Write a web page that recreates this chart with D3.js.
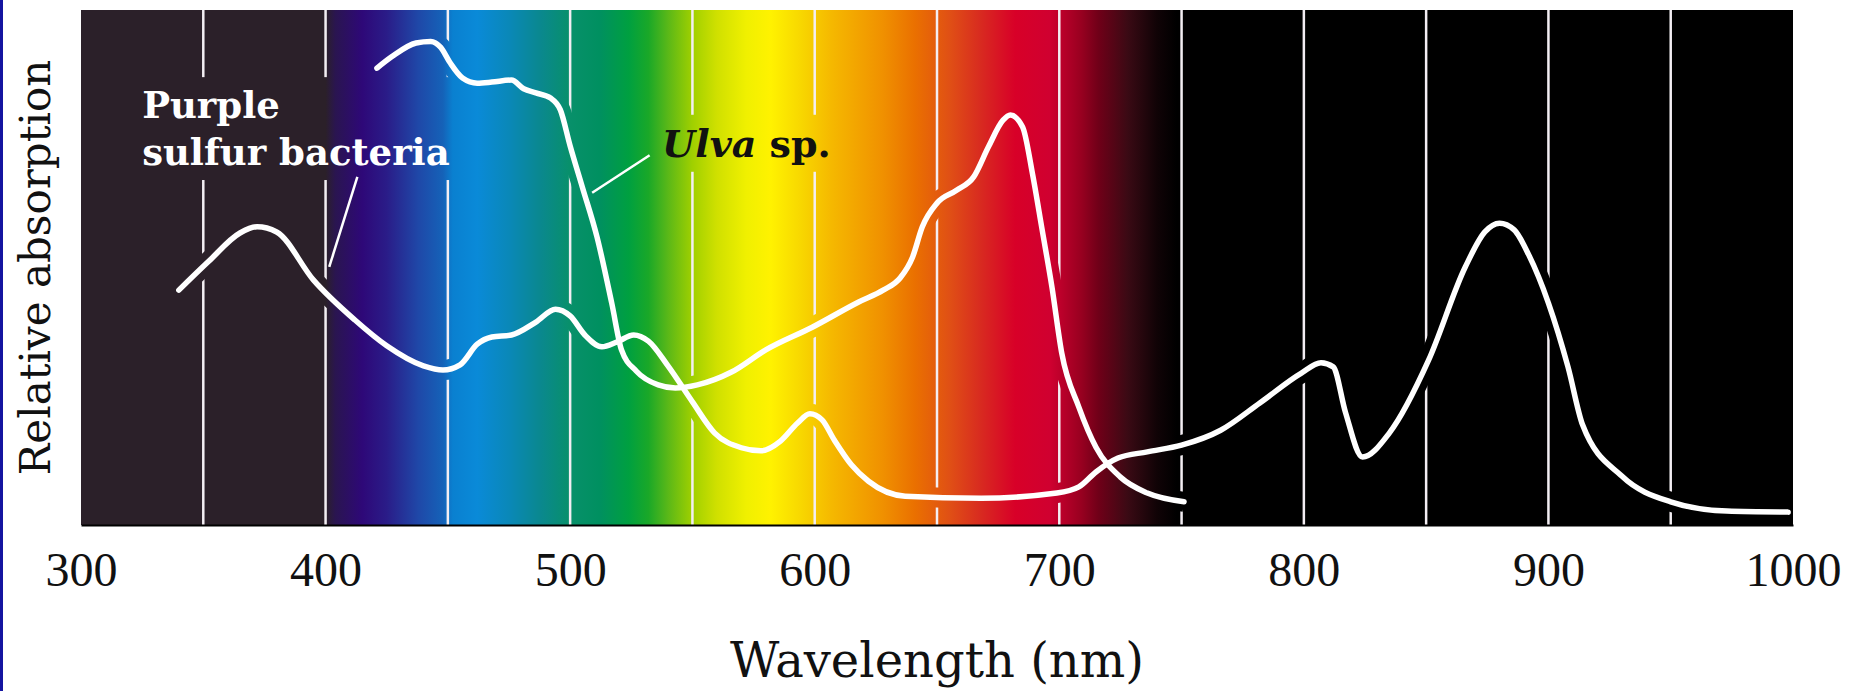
<!DOCTYPE html>
<html>
<head>
<meta charset="utf-8">
<script src="https://d3js.org/d3.v7.min.js"></script>
<style>
  body { margin: 0; background: #fff; }
  svg { display: block; }
</style>
</head>
<body>
<div id="chart"></div>
<script>
// wavelength (nm) / relative absorption (0-100)
var purpleWl = [340, 352, 365, 372, 380, 395, 412, 425, 440, 448, 455, 462, 468, 476, 486, 494, 500, 506, 513, 519,
  526, 532, 540, 550, 559, 570, 578, 586, 593, 598, 603, 608, 615, 622, 637, 668, 699, 708, 715, 724,
  736, 750, 766, 782, 799, 807, 812, 817, 824, 835, 851, 866, 874, 880, 886, 892, 900, 908, 914, 930,
  950, 973, 998];
var purpleAbs = [45.6, 51.1, 56.7, 57.9, 56.9, 47.6, 39.8, 34.8, 30.9, 30.1, 31.1, 35.1, 36.5, 36.9, 39.4, 41.9, 40.6, 36.9, 34.6, 35.5,
  36.9, 35.7, 30.9, 23.9, 17.9, 15.0, 14.4, 16.3, 19.8, 21.6, 20.4, 16.5, 11.7, 8.5, 5.6, 5.2, 6.2, 7.4, 10.3, 13.0,
  14.2, 15.5, 18.4, 23.7, 29.5, 31.5, 30.7, 21.9, 13.2, 17.9, 32.0, 50.1, 56.9, 58.6, 57.3, 52.4, 43.1, 30.7, 19.4, 9.5,
  4.5, 2.7, 2.5];

var ulvaWl = [421, 427, 437, 443, 447, 451, 456, 462, 468, 476, 481, 486, 492, 496, 500, 505, 511, 517, 521, 527,
  536, 543, 552, 566, 580, 599, 618, 628, 635, 640, 644, 650, 658, 665, 671, 677, 680, 685, 689, 693,
  697, 701, 708, 715, 725, 736, 751];
var ulvaAbs = [88.7, 90.9, 93.6, 93.9, 92.8, 89.7, 86.8, 85.8, 86.0, 86.4, 84.7, 83.9, 82.9, 80.6, 73.6, 65.6, 55.9, 43.1, 34.0, 29.9,
  27.2, 26.6, 27.2, 29.7, 34.0, 38.4, 43.3, 45.6, 48.0, 52.0, 57.9, 62.5, 65.0, 67.6, 73.4, 78.6, 79.6, 77.3, 68.3, 57.3,
  46.2, 33.4, 22.9, 15.1, 9.3, 6.2, 4.5];

var tickValues = [300, 400, 500, 600, 700, 800, 900, 1000];
var gridValues = [350, 400, 450, 500, 550, 600, 650, 700, 750, 800, 850, 900, 950];

// visible spectrum behind the plot
var spectrumWl = [300, 400, 404, 415, 425, 438, 448, 452, 462, 475, 488, 500, 512, 524, 532, 540, 550, 560, 572, 582,
  594, 607, 628, 641, 655, 668, 682, 696, 709, 716, 728, 740, 748, 1000];
var spectrumColor = ["#2b2029", "#2b2029", "#2a1550", "#2e0878", "#2a1c88", "#1f48a8", "#1562b8", "#0a80d0", "#0a8ad8", "#0a88b8",
  "#0a888e", "#08906a", "#009060", "#00a040", "#1aa828", "#5ab818", "#a0d000", "#d0e000", "#f0f000", "#fff200",
  "#f8d800", "#f5b800", "#f09000", "#ea7000", "#e05015", "#d82a20", "#d80028", "#d00030", "#980020", "#700018",
  "#3a0a14", "#100306", "#000000", "#000000"];

var W = 1858, H = 691;
var margin = { top: 10, right: 65, bottom: 166, left: 81 };
var width = W - margin.left - margin.right,
    height = H - margin.top - margin.bottom;

var x = d3.scaleLinear().domain([300, 1000]).range([0, width]);
var y = d3.scaleLinear().domain([0, 100]).range([height, 0]);

var svg = d3.select("#chart").append("svg")
    .attr("width", W)
    .attr("height", H);

// blue strip on the left edge of the slide
svg.append("rect").attr("x", 0).attr("y", 0).attr("width", 3).attr("height", H).attr("fill", "#1414a0");

var defs = svg.append("defs");
var grad = defs.append("linearGradient")
    .attr("id", "spectrum")
    .attr("gradientUnits", "userSpaceOnUse")
    .attr("x1", x(300)).attr("x2", x(1000))
    .attr("y1", 0).attr("y2", 0);
spectrumWl.forEach(function (w, i) {
    grad.append("stop")
        .attr("offset", (w - 300) / 700)
        .attr("stop-color", spectrumColor[i]);
});

var g = svg.append("g")
    .attr("transform", "translate(" + margin.left + "," + margin.top + ")");

g.append("rect")
    .attr("x", 0).attr("y", 0)
    .attr("width", width).attr("height", height)
    .attr("fill", "url(#spectrum)");

var purple = purpleWl.map(function (w, i) { return [w, purpleAbs[i]]; });
var ulva = ulvaWl.map(function (w, i) { return [w, ulvaAbs[i]]; });

var line = d3.line()
    .x(function (d) { return x(d[0]); })
    .y(function (d) { return y(d[1]); })
    .curve(d3.curveMonotoneX);

// grid lines are knocked out where curves and labels cross them
var mask = defs.append("mask")
    .attr("id", "gridMask")
    .attr("maskUnits", "userSpaceOnUse")
    .attr("x", -margin.left).attr("y", -margin.top)
    .attr("width", W).attr("height", H);
mask.append("rect")
    .attr("x", -margin.left).attr("y", -margin.top)
    .attr("width", W).attr("height", H)
    .attr("fill", "#fff");
[purple, ulva].forEach(function (d) {
    mask.append("path").attr("d", line(d))
        .attr("fill", "none").attr("stroke", "#000").attr("stroke-width", 20);
});

g.append("g")
    .attr("mask", "url(#gridMask)")
    .selectAll("line")
    .data(gridValues)
    .enter().append("line")
    .attr("x1", function (d) { return x(d); })
    .attr("x2", function (d) { return x(d); })
    .attr("y1", 0)
    .attr("y2", height)
    .attr("stroke", "#f3eef3")
    .attr("stroke-width", 2.5);

// leader lines
var leaders = [
    [[413, 67.6], [401.5, 50.1]],
    [[509, 64.5], [532.5, 71.8]]
];
g.selectAll(".leader")
    .data(leaders)
    .enter().append("line")
    .attr("class", "leader")
    .attr("x1", function (d) { return x(d[0][0]); })
    .attr("y1", function (d) { return y(d[0][1]); })
    .attr("x2", function (d) { return x(d[1][0]); })
    .attr("y2", function (d) { return y(d[1][1]); })
    .attr("stroke", "#fff")
    .attr("stroke-width", 2.5);

g.selectAll(".curve")
    .data([purple, ulva])
    .enter().append("path")
    .attr("class", "curve")
    .attr("d", line)
    .attr("fill", "none")
    .attr("stroke", "#fff")
    .attr("stroke-width", 5.5)
    .attr("stroke-linecap", "round")
    .attr("stroke-linejoin", "round");

// labels
var labelFont = "'DejaVu Serif', 'Liberation Serif', serif";
var psb = g.append("text")
    .attr("font-family", labelFont)
    .attr("font-weight", "bold")
    .attr("font-size", 37)
    .attr("fill", "#fff");
psb.append("tspan").attr("x", x(325)).attr("y", y(79)).text("Purple");
psb.append("tspan").attr("x", x(325)).attr("y", y(69.9)).text("sulfur bacteria");

var ulvaLabel = g.append("text")
    .attr("x", x(537.6)).attr("y", y(71.5))
    .attr("font-family", labelFont)
    .attr("font-weight", "bold")
    .attr("font-size", 38)
    .attr("fill", "#111");
ulvaLabel.append("tspan").attr("font-style", "italic").text("Ulva");
ulvaLabel.append("tspan").text(" sp.");

[psb, ulvaLabel].forEach(function (t) {
    var b = t.node().getBBox();
    mask.append("rect")
        .attr("x", b.x - 8).attr("y", b.y - 6)
        .attr("width", b.width + 16).attr("height", b.height + 12)
        .attr("fill", "#000");
});

// x axis
var xAxis = g.append("g")
    .attr("transform", "translate(0," + height + ")")
    .call(d3.axisBottom(x).tickValues(tickValues).tickFormat(d3.format("d"))
        .tickSize(0).tickSizeOuter(0).tickPadding(27));
xAxis.select(".domain").attr("stroke", "#000").attr("stroke-width", 2);
xAxis.selectAll("text")
    .attr("font-family", "'Liberation Serif', serif")
    .attr("font-size", 48)
    .attr("fill", "#111");

g.append("text")
    .attr("x", width / 2)
    .attr("y", 667)
    .attr("text-anchor", "middle")
    .attr("font-family", labelFont)
    .attr("font-size", 48)
    .attr("fill", "#111")
    .text("Wavelength (nm)");

g.append("text")
    .attr("transform", "translate(" + (50 - margin.left) + "," + (height / 2) + ") rotate(-90)")
    .attr("text-anchor", "middle")
    .attr("font-family", labelFont)
    .attr("font-size", 42)
    .attr("fill", "#111")
    .text("Relative absorption");
</script>
</body>
</html>
